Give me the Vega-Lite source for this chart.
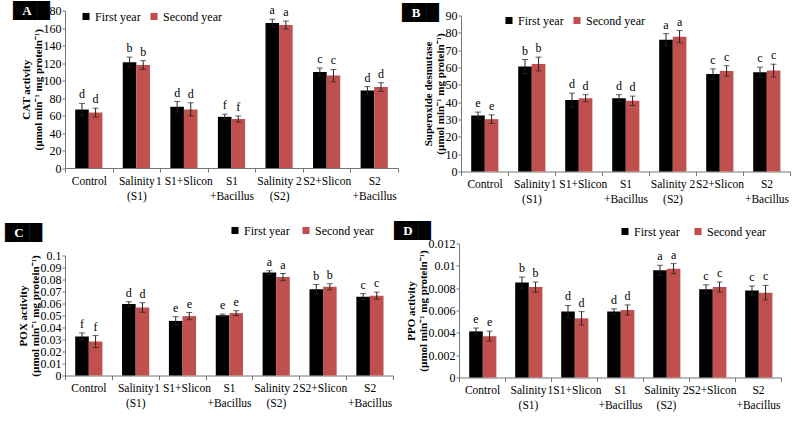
{
"$schema": "https://vega.github.io/schema/vega-lite/v6.json",
"background": "white",
"padding": {"left": 5, "top": 2.5, "right": 0, "bottom": 0},
"config": {
  "view": {"stroke": null},
  "font": "Liberation Serif",
  "axis": {"labelFont": "Liberation Serif", "labelFontSize": 12, "labelColor": "#000", "titleFont": "Liberation Serif", "titleFontSize": 11, "titleFontWeight": "bold", "titleColor": "#000", "grid": false, "domainColor": "#777", "tickColor": "#777", "tickSize": 4},
  "axisX": {"labelAngle": 0, "labelExpr": "split(datum.label,'|')", "labelLineHeight": 15, "labelFontSize": 11.5, "tickBand": "extent", "title": null, "labelPadding": 3, "labelOverlap": false},
  "axisY": {"format": "~r", "labelPadding": 1, "titlePadding": 0, "tickSize": 3, "titleLineHeight": 12, "labelOverlap": false, "tickCount": 20},
  "legend": {"title": null, "orient": "none", "direction": "horizontal", "symbolType": "square", "symbolSize": 50, "labelFont": "Liberation Serif", "labelFontSize": 12, "labelColor": "#000", "labelOffset": 3}
},
"data": {"values": [
{"p":"A","cat":"Control","yr":"First year","v":66.8,"lo":59.8,"hi":73.8,"sig":"d"},
{"p":"A","cat":"Control","yr":"Second year","v":63.4,"lo":58.4,"hi":68.4,"sig":"d"},
{"p":"A","cat":"Salinity|(S1)","yr":"First year","v":120.8,"lo":114.8,"hi":126.8,"sig":"b"},
{"p":"A","cat":"Salinity|(S1)","yr":"Second year","v":117.7,"lo":112.7,"hi":122.7,"sig":"b"},
{"p":"A","cat":"1 S1+Slicon","yr":"First year","v":70,"lo":64,"hi":76,"sig":"d"},
{"p":"A","cat":"1 S1+Slicon","yr":"Second year","v":67,"lo":59.5,"hi":74.5,"sig":"d"},
{"p":"A","cat":"S1|+Bacillus","yr":"First year","v":58.5,"lo":55.5,"hi":61.5,"sig":"f"},
{"p":"A","cat":"S1|+Bacillus","yr":"Second year","v":56,"lo":52.5,"hi":59.5,"sig":"f"},
{"p":"A","cat":"Salinity 2|(S2)","yr":"First year","v":165.6,"lo":161.1,"hi":170.1,"sig":"a"},
{"p":"A","cat":"Salinity 2|(S2)","yr":"Second year","v":163.4,"lo":158.9,"hi":167.9,"sig":"a"},
{"p":"A","cat":"S2+Slicon","yr":"First year","v":109.8,"lo":105.3,"hi":114.3,"sig":"c"},
{"p":"A","cat":"S2+Slicon","yr":"Second year","v":105.6,"lo":98.6,"hi":112.6,"sig":"c"},
{"p":"A","cat":"S2|+Bacillus","yr":"First year","v":88.5,"lo":84,"hi":93,"sig":"d"},
{"p":"A","cat":"S2|+Bacillus","yr":"Second year","v":92.5,"lo":87.5,"hi":97.5,"sig":"d"},
{"p":"B","cat":"Control","yr":"First year","v":32.3,"lo":30.3,"hi":34.3,"sig":"e"},
{"p":"B","cat":"Control","yr":"Second year","v":30.2,"lo":27.7,"hi":32.7,"sig":"e"},
{"p":"B","cat":"Salinity|(S1)","yr":"First year","v":60.6,"lo":56.6,"hi":64.6,"sig":"b"},
{"p":"B","cat":"Salinity|(S1)","yr":"Second year","v":62,"lo":58,"hi":66,"sig":"b"},
{"p":"B","cat":"1 S1+Slicon","yr":"First year","v":41.2,"lo":37.2,"hi":45.2,"sig":"d"},
{"p":"B","cat":"1 S1+Slicon","yr":"Second year","v":42.3,"lo":40.3,"hi":44.3,"sig":"d"},
{"p":"B","cat":"S1|+Bacillus","yr":"First year","v":42.3,"lo":40.3,"hi":44.3,"sig":"d"},
{"p":"B","cat":"S1|+Bacillus","yr":"Second year","v":40.8,"lo":38.1,"hi":43.5,"sig":"d"},
{"p":"B","cat":"Salinity 2|(S2)","yr":"First year","v":76,"lo":72.5,"hi":79.5,"sig":"a"},
{"p":"B","cat":"Salinity 2|(S2)","yr":"Second year","v":77.8,"lo":74.3,"hi":81.3,"sig":"a"},
{"p":"B","cat":"S2+Slicon","yr":"First year","v":56.2,"lo":53.2,"hi":59.2,"sig":"c"},
{"p":"B","cat":"S2+Slicon","yr":"Second year","v":58,"lo":55,"hi":61,"sig":"c"},
{"p":"B","cat":"S2|+Bacillus","yr":"First year","v":57.2,"lo":54.2,"hi":60.2,"sig":"c"},
{"p":"B","cat":"S2|+Bacillus","yr":"Second year","v":58.2,"lo":54.5,"hi":61.9,"sig":"c"},
{"p":"C","cat":"Control","yr":"First year","v":0.0325,"lo":0.0295,"hi":0.0355,"sig":"f"},
{"p":"C","cat":"Control","yr":"Second year","v":0.0283,"lo":0.0233,"hi":0.0333,"sig":"f"},
{"p":"C","cat":"Salinity|(S1)","yr":"First year","v":0.0595,"lo":0.0575,"hi":0.0615,"sig":"d"},
{"p":"C","cat":"Salinity|(S1)","yr":"Second year","v":0.0567,"lo":0.0527,"hi":0.0607,"sig":"d"},
{"p":"C","cat":"1 S1+Slicon","yr":"First year","v":0.0455,"lo":0.042,"hi":0.049,"sig":"e"},
{"p":"C","cat":"1 S1+Slicon","yr":"Second year","v":0.0495,"lo":0.0465,"hi":0.0525,"sig":"e"},
{"p":"C","cat":"S1|+Bacillus","yr":"First year","v":0.0502,"lo":0.0492,"hi":0.0512,"sig":"e"},
{"p":"C","cat":"S1|+Bacillus","yr":"Second year","v":0.052,"lo":0.05,"hi":0.054,"sig":"e"},
{"p":"C","cat":"Salinity 2|(S2)","yr":"First year","v":0.0858,"lo":0.0843,"hi":0.0873,"sig":"a"},
{"p":"C","cat":"Salinity 2|(S2)","yr":"Second year","v":0.082,"lo":0.079,"hi":0.085,"sig":"a"},
{"p":"C","cat":"S2+Slicon","yr":"First year","v":0.0718,"lo":0.0678,"hi":0.0758,"sig":"b"},
{"p":"C","cat":"S2+Slicon","yr":"Second year","v":0.074,"lo":0.0715,"hi":0.0765,"sig":"b"},
{"p":"C","cat":"S2|+Bacillus","yr":"First year","v":0.0657,"lo":0.0632,"hi":0.0682,"sig":"c"},
{"p":"C","cat":"S2|+Bacillus","yr":"Second year","v":0.0665,"lo":0.0635,"hi":0.0695,"sig":"c"},
{"p":"D","cat":"Control","yr":"First year","v":0.00413,"lo":0.00383,"hi":0.00443,"sig":"e"},
{"p":"D","cat":"Control","yr":"Second year","v":0.0037,"lo":0.00325,"hi":0.00415,"sig":"e"},
{"p":"D","cat":"Salinity|(S1)","yr":"First year","v":0.0085,"lo":0.008,"hi":0.009,"sig":"b"},
{"p":"D","cat":"Salinity|(S1)","yr":"Second year","v":0.0081,"lo":0.00765,"hi":0.00855,"sig":"b"},
{"p":"D","cat":"1S1+Slicon","yr":"First year","v":0.0059,"lo":0.00535,"hi":0.00645,"sig":"d"},
{"p":"D","cat":"1S1+Slicon","yr":"Second year","v":0.0053,"lo":0.0047,"hi":0.0059,"sig":"d"},
{"p":"D","cat":"S1|+Bacillus","yr":"First year","v":0.0059,"lo":0.00565,"hi":0.00615,"sig":"d"},
{"p":"D","cat":"S1|+Bacillus","yr":"Second year","v":0.00605,"lo":0.0056,"hi":0.0065,"sig":"d"},
{"p":"D","cat":"Salinity 2|(S2)","yr":"First year","v":0.0096,"lo":0.00915,"hi":0.01005,"sig":"a"},
{"p":"D","cat":"Salinity 2|(S2)","yr":"Second year","v":0.00975,"lo":0.0093,"hi":0.0102,"sig":"a"},
{"p":"D","cat":"S2+Slicon","yr":"First year","v":0.0079,"lo":0.0075,"hi":0.0083,"sig":"c"},
{"p":"D","cat":"S2+Slicon","yr":"Second year","v":0.0081,"lo":0.00765,"hi":0.00855,"sig":"c"},
{"p":"D","cat":"S2|+Bacillus","yr":"First year","v":0.0078,"lo":0.0074,"hi":0.0082,"sig":"c"},
{"p":"D","cat":"S2|+Bacillus","yr":"Second year","v":0.0076,"lo":0.00695,"hi":0.00825,"sig":"c"}
]},
"resolve": {"scale": {"color": "independent", "x": "independent", "y": "independent"}, "legend": {"color": "independent"}},
"spacing": 17,
"vconcat": [
{
 "spacing": 3,
 "resolve": {"scale": {"color": "independent", "x": "independent", "y": "independent"}, "legend": {"color": "independent"}},
 "hconcat": [
  {
   "width": 333, "height": 157.5,
   "layer": [
    {"transform": [{"filter": "datum.p == 'A'"}], "mark": {"type": "bar"},
     "encoding": {
      "x": {"field": "cat", "type": "nominal", "sort": null, "scale": {"domain": ["Control","Salinity|(S1)","1 S1+Slicon","S1|+Bacillus","Salinity 2|(S2)","S2+Slicon","S2|+Bacillus"], "paddingInner": 0, "paddingOuter": 0}},
      "xOffset": {"field": "yr", "type": "nominal", "sort": null, "scale": {"paddingOuter": 0.75, "paddingInner": 0}},
      "y": {"field": "v", "type": "quantitative", "scale": {"domain": [0, 180], "nice": false}, "axis": {"values": [0,20,40,60,80,100,120,140,160,180], "tickCount": 20, "labelOverlap": false, "title": ["CAT activity", "(µmol min⁻¹ mg protein⁻¹)"]}},
      "color": {"field": "yr", "type": "nominal", "sort": null, "scale": {"domain": ["First year","Second year"], "range": ["#000000", "#c0504d"]}, "legend": {"legendX": 15, "legendY": 0, "columnPadding": 7, "labelFont": "Liberation Serif", "labelFontSize": 12}}
     }},
    {"transform": [{"filter": "datum.p == 'A'"}], "mark": {"type": "rule", "color": "#222", "strokeWidth": 1},
     "encoding": {"x": {"field": "cat", "type": "nominal", "sort": null}, "xOffset": {"field": "yr", "type": "nominal", "sort": null}, "y": {"field": "lo", "type": "quantitative"}, "y2": {"field": "hi"}}},
    {"transform": [{"filter": "datum.p == 'A'"}], "mark": {"type": "tick", "color": "#222", "thickness": 1, "size": 6, "orient": "horizontal"},
     "encoding": {"x": {"field": "cat", "type": "nominal", "sort": null}, "xOffset": {"field": "yr", "type": "nominal", "sort": null}, "y": {"field": "lo", "type": "quantitative"}}},
    {"transform": [{"filter": "datum.p == 'A'"}], "mark": {"type": "tick", "color": "#222", "thickness": 1, "size": 6, "orient": "horizontal"},
     "encoding": {"x": {"field": "cat", "type": "nominal", "sort": null}, "xOffset": {"field": "yr", "type": "nominal", "sort": null}, "y": {"field": "hi", "type": "quantitative"}}},
    {"transform": [{"filter": "datum.p == 'A'"}], "mark": {"type": "text", "baseline": "bottom", "dy": -2, "font": "Liberation Serif", "fontSize": 12, "color": "#000"},
     "encoding": {"x": {"field": "cat", "type": "nominal", "sort": null}, "xOffset": {"field": "yr", "type": "nominal", "sort": null}, "y": {"field": "hi", "type": "quantitative"}, "text": {"field": "sig"}}},
    {"data": {"values": [{"lab": "A"}]}, "mark": {"type": "text", "font": "DejaVu Sans", "fontSize": 16, "baseline": "middle", "align": "left", "dx": -75.8, "dy": 0, "color": "#000"},
     "encoding": {"x": {"datum": "Control"}, "y": {"datum": 180}, "text": {"value": "███"}}},
    {"data": {"values": [{"lab": "A"}]}, "mark": {"type": "text", "font": "Liberation Serif", "fontWeight": "bold", "fontSize": 13, "baseline": "middle", "align": "center", "dx": -61.8, "dy": 0, "color": "#fff"},
     "encoding": {"x": {"datum": "Control"}, "y": {"datum": 180}, "text": {"field": "lab"}}}
   ]
  },
  {
   "width": 329, "height": 161,
   "layer": [
    {"transform": [{"filter": "datum.p == 'B'"}], "mark": {"type": "bar"},
     "encoding": {
      "x": {"field": "cat", "type": "nominal", "sort": null, "scale": {"domain": ["Control","Salinity|(S1)","1 S1+Slicon","S1|+Bacillus","Salinity 2|(S2)","S2+Slicon","S2|+Bacillus"], "paddingInner": 0, "paddingOuter": 0}},
      "xOffset": {"field": "yr", "type": "nominal", "sort": null, "scale": {"paddingOuter": 0.75, "paddingInner": 0}},
      "y": {"field": "v", "type": "quantitative", "scale": {"domain": [0, 90], "nice": false, "range": [161, 5]}, "axis": {"values": [0,10,20,30,40,50,60,70,80,90], "tickCount": 20, "labelOverlap": false, "title": ["Superoxide desmutase", "(µmol min⁻¹ mg protein⁻¹)"]}},
      "color": {"field": "yr", "type": "nominal", "sort": null, "scale": {"domain": ["First year","Second year"], "range": ["#000000", "#c0504d"]}, "legend": {"legendX": 42, "legendY": 4, "columnPadding": 7, "labelFont": "Liberation Serif", "labelFontSize": 12}}
     }},
    {"transform": [{"filter": "datum.p == 'B'"}], "mark": {"type": "rule", "color": "#222", "strokeWidth": 1},
     "encoding": {"x": {"field": "cat", "type": "nominal", "sort": null}, "xOffset": {"field": "yr", "type": "nominal", "sort": null}, "y": {"field": "lo", "type": "quantitative"}, "y2": {"field": "hi"}}},
    {"transform": [{"filter": "datum.p == 'B'"}], "mark": {"type": "tick", "color": "#222", "thickness": 1, "size": 6, "orient": "horizontal"},
     "encoding": {"x": {"field": "cat", "type": "nominal", "sort": null}, "xOffset": {"field": "yr", "type": "nominal", "sort": null}, "y": {"field": "lo", "type": "quantitative"}}},
    {"transform": [{"filter": "datum.p == 'B'"}], "mark": {"type": "tick", "color": "#222", "thickness": 1, "size": 6, "orient": "horizontal"},
     "encoding": {"x": {"field": "cat", "type": "nominal", "sort": null}, "xOffset": {"field": "yr", "type": "nominal", "sort": null}, "y": {"field": "hi", "type": "quantitative"}}},
    {"transform": [{"filter": "datum.p == 'B'"}], "mark": {"type": "text", "baseline": "bottom", "dy": -2, "font": "Liberation Serif", "fontSize": 12, "color": "#000"},
     "encoding": {"x": {"field": "cat", "type": "nominal", "sort": null}, "xOffset": {"field": "yr", "type": "nominal", "sort": null}, "y": {"field": "hi", "type": "quantitative"}, "text": {"field": "sig"}}},
    {"data": {"values": [{"lab": "B"}]}, "mark": {"type": "text", "font": "DejaVu Sans", "fontSize": 16, "baseline": "middle", "align": "left", "dx": -82.5, "dy": -3, "color": "#000"},
     "encoding": {"x": {"datum": "Control"}, "y": {"datum": 90}, "text": {"value": "███"}}},
    {"data": {"values": [{"lab": "B"}]}, "mark": {"type": "text", "font": "Liberation Serif", "fontWeight": "bold", "fontSize": 13, "baseline": "middle", "align": "center", "dx": -68.5, "dy": -3, "color": "#fff"},
     "encoding": {"x": {"datum": "Control"}, "y": {"datum": 90}, "text": {"field": "lab"}}}
   ]
  }
 ]
},
{
 "spacing": 0,
 "resolve": {"scale": {"color": "independent", "x": "independent", "y": "independent"}, "legend": {"color": "independent"}},
 "hconcat": [
  {
   "width": 328, "height": 132,
   "layer": [
    {"transform": [{"filter": "datum.p == 'C'"}], "mark": {"type": "bar"},
     "encoding": {
      "x": {"field": "cat", "type": "nominal", "sort": null, "scale": {"domain": ["Control","Salinity|(S1)","1 S1+Slicon","S1|+Bacillus","Salinity 2|(S2)","S2+Slicon","S2|+Bacillus"], "paddingInner": 0, "paddingOuter": 0}},
      "xOffset": {"field": "yr", "type": "nominal", "sort": null, "scale": {"paddingOuter": 0.75, "paddingInner": 0}},
      "y": {"field": "v", "type": "quantitative", "scale": {"domain": [0, 0.1], "nice": false, "range": [132, 12]}, "axis": {"values": [0,0.01,0.02,0.03,0.04,0.05,0.06,0.07,0.08,0.09,0.1], "tickCount": 20, "labelOverlap": false, "title": ["POX activity", "(µmol min⁻¹ mg protein⁻¹)"]}},
      "color": {"field": "yr", "type": "nominal", "sort": null, "scale": {"domain": ["First year","Second year"], "range": ["#000000", "#c0504d"]}, "legend": {"legendX": 164, "legendY": -19, "columnPadding": 10, "labelFont": "Liberation Serif", "labelFontSize": 12}}
     }},
    {"transform": [{"filter": "datum.p == 'C'"}], "mark": {"type": "rule", "color": "#222", "strokeWidth": 1},
     "encoding": {"x": {"field": "cat", "type": "nominal", "sort": null}, "xOffset": {"field": "yr", "type": "nominal", "sort": null}, "y": {"field": "lo", "type": "quantitative"}, "y2": {"field": "hi"}}},
    {"transform": [{"filter": "datum.p == 'C'"}], "mark": {"type": "tick", "color": "#222", "thickness": 1, "size": 6, "orient": "horizontal"},
     "encoding": {"x": {"field": "cat", "type": "nominal", "sort": null}, "xOffset": {"field": "yr", "type": "nominal", "sort": null}, "y": {"field": "lo", "type": "quantitative"}}},
    {"transform": [{"filter": "datum.p == 'C'"}], "mark": {"type": "tick", "color": "#222", "thickness": 1, "size": 6, "orient": "horizontal"},
     "encoding": {"x": {"field": "cat", "type": "nominal", "sort": null}, "xOffset": {"field": "yr", "type": "nominal", "sort": null}, "y": {"field": "hi", "type": "quantitative"}}},
    {"transform": [{"filter": "datum.p == 'C'"}], "mark": {"type": "text", "baseline": "bottom", "dy": -2, "font": "Liberation Serif", "fontSize": 12, "color": "#000"},
     "encoding": {"x": {"field": "cat", "type": "nominal", "sort": null}, "xOffset": {"field": "yr", "type": "nominal", "sort": null}, "y": {"field": "hi", "type": "quantitative"}, "text": {"field": "sig"}}},
    {"data": {"values": [{"lab": "C"}]}, "mark": {"type": "text", "font": "DejaVu Sans", "fontSize": 16, "baseline": "middle", "align": "left", "dx": -83.4, "dy": -23, "color": "#000"},
     "encoding": {"x": {"datum": "Control"}, "y": {"datum": 0.1}, "text": {"value": "███"}}},
    {"data": {"values": [{"lab": "C"}]}, "mark": {"type": "text", "font": "Liberation Serif", "fontWeight": "bold", "fontSize": 13, "baseline": "middle", "align": "center", "dx": -69.4, "dy": -23, "color": "#fff"},
     "encoding": {"x": {"datum": "Control"}, "y": {"datum": 0.1}, "text": {"field": "lab"}}}
   ]
  },
  {
   "width": 322, "height": 134,
   "layer": [
    {"transform": [{"filter": "datum.p == 'D'"}], "mark": {"type": "bar"},
     "encoding": {
      "x": {"field": "cat", "type": "nominal", "sort": null, "scale": {"domain": ["Control","Salinity|(S1)","1S1+Slicon","S1|+Bacillus","Salinity 2|(S2)","S2+Slicon","S2|+Bacillus"], "paddingInner": 0, "paddingOuter": 0}},
      "xOffset": {"field": "yr", "type": "nominal", "sort": null, "scale": {"paddingOuter": 0.75, "paddingInner": 0}},
      "y": {"field": "v", "type": "quantitative", "scale": {"domain": [0, 0.012], "nice": false}, "axis": {"values": [0,0.002,0.004,0.006,0.008,0.01,0.012], "tickCount": 20, "labelOverlap": false, "title": ["PPO activity", "(µmol min⁻¹ mg protein⁻¹)"]}},
      "color": {"field": "yr", "type": "nominal", "sort": null, "scale": {"domain": ["First year","Second year"], "range": ["#000000", "#c0504d"]}, "legend": {"legendX": 160, "legendY": -18, "columnPadding": 12, "labelFont": "Liberation Serif", "labelFontSize": 12}}
     }},
    {"transform": [{"filter": "datum.p == 'D'"}], "mark": {"type": "rule", "color": "#222", "strokeWidth": 1},
     "encoding": {"x": {"field": "cat", "type": "nominal", "sort": null}, "xOffset": {"field": "yr", "type": "nominal", "sort": null}, "y": {"field": "lo", "type": "quantitative"}, "y2": {"field": "hi"}}},
    {"transform": [{"filter": "datum.p == 'D'"}], "mark": {"type": "tick", "color": "#222", "thickness": 1, "size": 6, "orient": "horizontal"},
     "encoding": {"x": {"field": "cat", "type": "nominal", "sort": null}, "xOffset": {"field": "yr", "type": "nominal", "sort": null}, "y": {"field": "lo", "type": "quantitative"}}},
    {"transform": [{"filter": "datum.p == 'D'"}], "mark": {"type": "tick", "color": "#222", "thickness": 1, "size": 6, "orient": "horizontal"},
     "encoding": {"x": {"field": "cat", "type": "nominal", "sort": null}, "xOffset": {"field": "yr", "type": "nominal", "sort": null}, "y": {"field": "hi", "type": "quantitative"}}},
    {"transform": [{"filter": "datum.p == 'D'"}], "mark": {"type": "text", "baseline": "bottom", "dy": -2, "font": "Liberation Serif", "fontSize": 12, "color": "#000"},
     "encoding": {"x": {"field": "cat", "type": "nominal", "sort": null}, "xOffset": {"field": "yr", "type": "nominal", "sort": null}, "y": {"field": "hi", "type": "quantitative"}, "text": {"field": "sig"}}},
    {"data": {"values": [{"lab": "D"}]}, "mark": {"type": "text", "font": "DejaVu Sans", "fontSize": 16, "baseline": "middle", "align": "left", "dx": -88, "dy": -13, "color": "#000"},
     "encoding": {"x": {"datum": "Control"}, "y": {"datum": 0.012}, "text": {"value": "███"}}},
    {"data": {"values": [{"lab": "D"}]}, "mark": {"type": "text", "font": "Liberation Serif", "fontWeight": "bold", "fontSize": 13, "baseline": "middle", "align": "center", "dx": -74, "dy": -13, "color": "#fff"},
     "encoding": {"x": {"datum": "Control"}, "y": {"datum": 0.012}, "text": {"field": "lab"}}}
   ]
  }
 ]
}
]
}
